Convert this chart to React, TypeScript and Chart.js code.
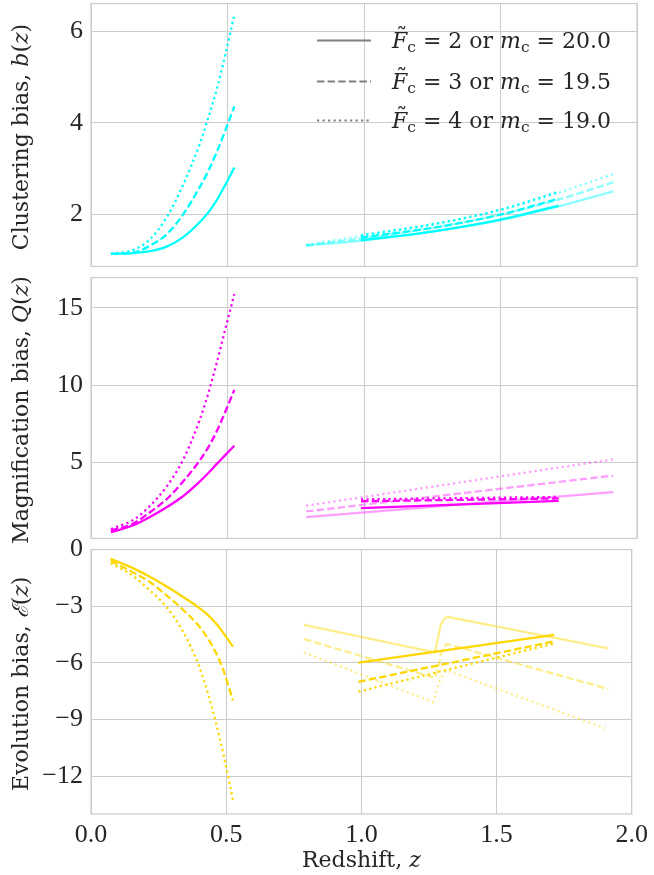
import React, { useEffect, useRef } from "react";
import { Chart, registerables } from "chart.js";
Chart.register(...registerables);

const TICK_FONT = '"Liberation Serif", "DejaVu Serif", serif';
const TEXT_FONT = '"DejaVu Serif", "Liberation Serif", serif';
const TXT = "#262626";
const GRID = "#cccccc";

// ---------- data ----------
// low-redshift sample (bold curves)
const zLow = [0.073, 0.155, 0.216, 0.277, 0.338, 0.399, 0.43, 0.46, 0.49, 0.525];
const bLowF2 = [1.13, 1.15, 1.19, 1.29, 1.5, 1.83, 2.04, 2.3, 2.62, 3.02];
const bLowF3 = [1.13, 1.16, 1.31, 1.56, 2.0, 2.6, 2.95, 3.35, 3.8, 4.36];
const bLowF4 = [1.13, 1.22, 1.45, 1.93, 2.65, 3.55, 4.12, 4.72, 5.44, 6.36];
const qLowF2 = [0.5, 0.95, 1.48, 2.11, 2.84, 3.79, 4.33, 4.9, 5.45, 6.09];
const qLowF3 = [0.6, 1.06, 1.79, 2.63, 3.79, 5.15, 6.0, 7.0, 8.2, 9.7];
const qLowF4 = [0.7, 1.3, 2.2, 3.45, 5.2, 7.8, 9.5, 11.4, 13.5, 15.88];
const eLowF2 = [-0.49, -0.98, -1.42, -1.93, -2.48, -3.07, -3.43, -3.87, -4.42, -5.14];
const eLowF3 = [-0.6, -1.2, -1.7, -2.4, -3.15, -4.05, -4.65, -5.4, -6.4, -7.99];
const eLowF4 = [-0.72, -1.39, -2.14, -3.0, -4.28, -6.15, -7.5, -9.05, -10.85, -13.25];

// high-redshift sample, full range (faded curves)
const zHigh = [0.788, 1.0, 1.25, 1.5, 1.713, 1.913];
const bHighM20 = [1.31, 1.43, 1.62, 1.87, 2.17, 2.5];
const bHighM195 = [1.32, 1.48, 1.7, 1.99, 2.32, 2.7];
const bHighM19 = [1.33, 1.53, 1.77, 2.09, 2.47, 2.88];
const zHighEnds = [0.788, 1.913];
const qHighM20 = [1.48, 3.09];
const qHighM195 = [1.84, 4.16];
const qHighM19 = [2.21, 5.21];
const zEHighM20 = [0.788, 1.272, 1.285, 1.293, 1.305, 1.318, 1.913];
const eHighM20 = [-3.99, -5.44, -4.57, -4.0, -3.7, -3.56, -5.23];
const zEHighM195 = [0.788, 1.272, 1.285, 1.293, 1.305, 1.318, 1.913];
const eHighM195 = [-4.74, -6.79, -6.2, -5.6, -5.15, -5.0, -7.38];
const zEHighM19 = [0.788, 1.266, 1.278, 1.29, 1.303, 1.315, 1.901];
const eHighM19 = [-5.44, -8.08, -7.52, -6.9, -6.57, -6.39, -9.46];

// high-redshift sample, restricted range (bold curves)
const zMid = [0.989, 1.25, 1.5, 1.713];
const bMidM20 = [1.43, 1.62, 1.88, 2.19];
const bMidM195 = [1.49, 1.7, 1.99, 2.34];
const bMidM19 = [1.54, 1.78, 2.1, 2.49];
const zMidEnds = [0.989, 1.713];
const qMidM20 = [2.06, 2.52];
const qMidM195 = [2.5, 2.68];
const qMidM19 = [2.62, 2.78];
const eMidM20 = [-5.99, -4.52];
const eMidM195 = [-7.0, -4.86];
const eMidM19 = [-7.52, -4.97];

// axes
const xTicks = [0, 0.5, 1.0, 1.5, 2.0];
const bTicks = [2, 4, 6];
const qTicks = [5, 10, 15];
const eTicks = [-12, -9, -6, -3, 0];
const legendFc = ["2", "3", "4"];
const legendMc = ["20.0", "19.5", "19.0"];

// ---------- helpers ----------
const CYAN = "rgb(0,255,255)";
const CYAN_F = "rgba(0,255,255,0.45)";
const MAG = "rgb(255,0,255)";
const MAG_F = "rgba(255,0,255,0.38)";
const GOLD = "rgb(255,215,0)";
const GOLD_F = "rgba(255,215,0,0.45)";
const DASH = [7.4, 3.2];
const DOT = [2.2, 3.3];
const STYLES = [[], DASH, DOT];
const LW = 2.3;

const pts = (zs: number[], vs: number[]) => zs.map((z, i) => ({ x: z, y: vs[i] }));

function ds(data: any[], color: string, style: number, order: number, mono: boolean) {
  return {
    data,
    borderColor: color,
    borderDash: STYLES[style],
    borderWidth: LW,
    pointRadius: 0,
    fill: false,
    order,
    tension: 0,
    cubicInterpolationMode: mono ? "monotone" : "default",
  };
}

type Part = { t: string; it?: boolean; sub?: boolean; tilde?: boolean; gap?: number };

function fontOf(p: Part, size: number) {
  const s = p.sub ? size * 0.7 : size;
  return `${p.it ? "italic " : ""}${s}px ${TEXT_FONT}`;
}

function drawRich(ctx: CanvasRenderingContext2D, parts: Part[], x: number, y: number, size: number, align: "left" | "center") {
  let total = 0;
  for (const p of parts) {
    ctx.font = fontOf(p, size);
    total += ctx.measureText(p.t).width + (p.gap || 0);
  }
  let cx = align === "center" ? x - total / 2 : x;
  ctx.textAlign = "left";
  ctx.textBaseline = "alphabetic";
  const base = y + size * 0.34;
  for (const p of parts) {
    ctx.font = fontOf(p, size);
    const w = ctx.measureText(p.t).width;
    const by = p.sub ? base + size * 0.18 : base;
    ctx.fillText(p.t, cx, by);
    if (p.tilde) {
      ctx.font = `${size}px ${TEXT_FONT}`;
      ctx.textAlign = "center";
      ctx.fillText("\u02DC", cx + w / 2 + size * 0.1, base - size * 0.2);
      ctx.textAlign = "left";
    }
    cx += w + (p.gap || 0);
  }
}

const fmtTick = (v: number) => (v < 0 ? "\u2212" + Math.abs(v) : String(v));

type PanelCfg = {
  top: number;
  height: number;
  padTop: number;
  padBottom: number;
  xAxisH: number;
  showX: boolean;
  min: number;
  max: number;
  yTicks: number[];
  datasets: any[];
  yTitle: Part[];
  legend?: boolean;
};

const TFS = 26;
const FS = 22;

function makeChart(canvas: HTMLCanvasElement, cfg: PanelCfg) {
  const deco = {
    id: "deco",
    afterDatasetsDraw(chart: any) {
      const { ctx, chartArea: a } = chart;
      ctx.save();
      ctx.strokeStyle = GRID;
      ctx.lineWidth = 1.25;
      ctx.strokeRect(a.left, a.top, a.right - a.left, a.bottom - a.top);
      ctx.restore();
    },
    afterDraw(chart: any) {
      const { ctx, chartArea: a } = chart;
      ctx.save();
      ctx.fillStyle = TXT;
      ctx.save();
      ctx.translate(21, (a.top + a.bottom) / 2 + 2);
      ctx.rotate(-Math.PI / 2);
      drawRich(ctx, cfg.yTitle, 0, 0, FS, "center");
      ctx.restore();
      if (cfg.showX) {
        drawRich(ctx, [{ t: "Redshift, " }, { t: "z", it: true }], (a.left + a.right) / 2, a.bottom + 46, FS, "center");
      }
      if (cfg.legend) {
        const rows = [38, 79, 118];
        rows.forEach((ry, i) => {
          const y = ry + (a.top - 1);
          ctx.save();
          ctx.strokeStyle = "#7f7f7f";
          ctx.lineWidth = 2;
          ctx.setLineDash(STYLES[i]);
          ctx.beginPath();
          ctx.moveTo(317, y);
          ctx.lineTo(371, y);
          ctx.stroke();
          ctx.restore();
          ctx.fillStyle = TXT;
          drawRich(
            ctx,
            [
              { t: "F", it: true, tilde: true },
              { t: "c", sub: true },
              { t: " = " + legendFc[i] + " or " },
              { t: "m", it: true },
              { t: "c", sub: true },
              { t: " = " + legendMc[i] },
            ],
            392,
            y,
            FS,
            "left"
          );
        });
      }
      ctx.restore();
    },
  };

  return new Chart(canvas, {
    type: "line",
    data: { datasets: cfg.datasets },
    options: {
      animation: false,
      responsive: false,
      events: [],
      layout: { padding: { left: 0, right: 17, top: cfg.padTop, bottom: cfg.padBottom } },
      plugins: { legend: { display: false }, tooltip: { enabled: false } },
      scales: {
        x: {
          type: "linear",
          min: 0,
          max: 2,
          afterBuildTicks: (s: any) => {
            s.ticks = xTicks.map((v) => ({ value: v }));
          },
          afterFit: (s: any) => {
            s.height = cfg.xAxisH;
          },
          grid: { color: GRID, lineWidth: 1, drawTicks: false },
          border: { display: false },
          ticks: {
            display: cfg.showX,
            color: TXT,
            padding: 6,
            font: { family: TICK_FONT, size: TFS },
            callback: (v: any) => Number(v).toFixed(1),
            maxRotation: 0,
          },
        },
        y: {
          type: "linear",
          min: cfg.min,
          max: cfg.max,
          afterBuildTicks: (s: any) => {
            s.ticks = cfg.yTicks.map((v) => ({ value: v }));
          },
          afterFit: (s: any) => {
            s.width = 91;
          },
          grid: { color: GRID, lineWidth: 1, drawTicks: false },
          border: { display: false },
          ticks: {
            color: TXT,
            padding: 8,
            font: { family: TICK_FONT, size: TFS },
            callback: (v: any) => fmtTick(Number(v)),
          },
        },
      },
    } as any,
    plugins: [deco],
  });
}

export default function App() {
  const r1 = useRef<HTMLCanvasElement>(null);
  const r2 = useRef<HTMLCanvasElement>(null);
  const r3 = useRef<HTMLCanvasElement>(null);

  const panels: PanelCfg[] = [
    {
      top: -20,
      height: 310,
      padTop: 21,
      padBottom: 21,
      xAxisH: 0,
      showX: false,
      min: 0.858,
      max: 6.607,
      yTicks: bTicks,
      legend: true,
      yTitle: [{ t: "Clustering bias, " }, { t: "b", it: true }, { t: "(" }, { t: "z", it: true }, { t: ")" }],
      datasets: [
        ds(pts(zLow, bLowF2), CYAN, 0, 0, true),
        ds(pts(zLow, bLowF3), CYAN, 1, 0, true),
        ds(pts(zLow, bLowF4), CYAN, 2, 0, true),
        ds(pts(zMid, bMidM20), CYAN, 0, 0, true),
        ds(pts(zMid, bMidM195), CYAN, 1, 0, true),
        ds(pts(zMid, bMidM19), CYAN, 2, 0, true),
        ds(pts(zHigh, bHighM20), CYAN_F, 0, 1, true),
        ds(pts(zHigh, bHighM195), CYAN_F, 1, 1, true),
        ds(pts(zHigh, bHighM19), CYAN_F, 2, 1, true),
      ],
    },
    {
      top: 254,
      height: 308,
      padTop: 20,
      padBottom: 20,
      xAxisH: 0,
      showX: false,
      min: 0.1,
      max: 16.95,
      yTicks: qTicks,
      yTitle: [{ t: "Magnification bias, " }, { t: "Q", it: true }, { t: "(" }, { t: "z", it: true }, { t: ")" }],
      datasets: [
        ds(pts(zLow, qLowF2), MAG, 0, 0, true),
        ds(pts(zLow, qLowF3), MAG, 1, 0, true),
        ds(pts(zLow, qLowF4), MAG, 2, 0, true),
        ds(pts(zMidEnds, qMidM20), MAG, 0, 0, false),
        ds(pts(zMidEnds, qMidM195), MAG, 1, 0, false),
        ds(pts(zMidEnds, qMidM19), MAG, 2, 0, false),
        ds(pts(zHighEnds, qHighM20), MAG_F, 0, 1, false),
        ds(pts(zHighEnds, qHighM195), MAG_F, 1, 1, false),
        ds(pts(zHighEnds, qHighM19), MAG_F, 2, 1, false),
      ],
    },
    {
      top: 526,
      height: 349,
      padTop: 20,
      padBottom: 0,
      xAxisH: 61,
      showX: true,
      min: -14.0,
      max: 0,
      yTicks: eTicks,
      yTitle: [{ t: "Evolution bias, " }, { t: "\u2130", it: true }, { t: "(" }, { t: "z", it: true }, { t: ")" }],
      datasets: [
        ds(pts(zLow, eLowF2), GOLD, 0, 0, true),
        ds(pts(zLow, eLowF3), GOLD, 1, 0, true),
        ds(pts(zLow, eLowF4), GOLD, 2, 0, true),
        ds(pts(zMidEnds, eMidM20), GOLD, 0, 0, false),
        ds(pts(zMidEnds, eMidM195), GOLD, 1, 0, false),
        ds(pts(zMidEnds, eMidM19), GOLD, 2, 0, false),
        ds(pts(zEHighM20, eHighM20), GOLD_F, 0, 1, false),
        ds(pts(zEHighM195, eHighM195), GOLD_F, 1, 1, false),
        ds(pts(zEHighM19, eHighM19), GOLD_F, 2, 1, false),
      ],
    },
  ];

  useEffect(() => {
    const refs = [r1, r2, r3];
    const charts = panels.map((p, i) => makeChart(refs[i].current as HTMLCanvasElement, p));
    return () => charts.forEach((c) => c.destroy());
  }, []);

  const refs = [r1, r2, r3];
  return (
    <div style={{ position: "absolute", left: 0, top: 0, width: 654, height: 875, overflow: "hidden", background: "#fff" }}>
      {panels.map((p, i) => (
        <canvas
          key={i}
          ref={refs[i]}
          width={654}
          height={p.height}
          style={{ position: "absolute", left: 0, top: p.top, width: 654, height: p.height }}
        />
      ))}
    </div>
  );
}
